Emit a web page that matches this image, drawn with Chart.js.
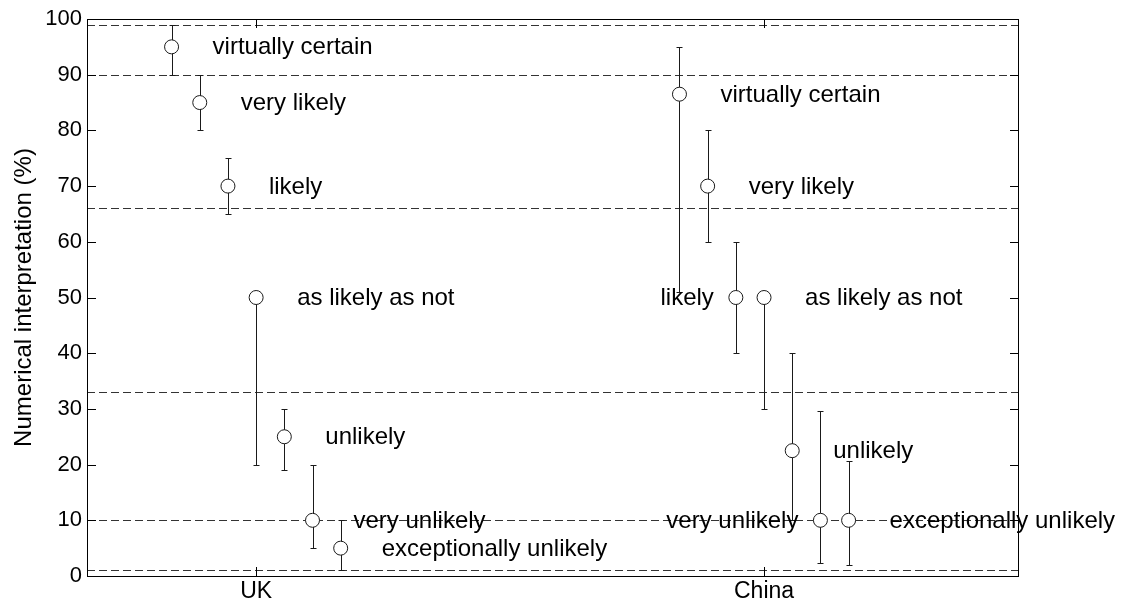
<!DOCTYPE html>
<html>
<head>
<meta charset="utf-8">
<script src="https://cdn.jsdelivr.net/npm/chart.js@4.4.1/dist/chart.umd.min.js"></script>
<style>
  html, body { margin: 0; padding: 0; background: #fff; }
  #wrap { width: 1128px; height: 610px; }
</style>
</head>
<body>
<div id="wrap"><canvas id="myChart"></canvas></div>
<script>
// groups on the x axis and the seven likelihood terms
const groups = ['UK', 'China'];
const terms = ['virtually certain', 'very likely', 'likely', 'as likely as not',
               'unlikely', 'very unlikely', 'exceptionally unlikely'];

// median numerical interpretation (%) and the range shown by the bars
const ukMid = [95, 85, 70, 50, 25, 10, 5];
const ukLow = [90, 80, 65, 20, 19, 5, 1];
const ukHigh = [99, 90, 75, 50, 30, 20, 10];

const chinaMid = [86.5, 70, 50, 50, 22.5, 10, 10];
const chinaLow = [51, 60, 40, 30, 10, 2.3, 2];
const chinaHigh = [95, 80, 60, 50, 40, 29.7, 20.7];

// IPCC band limits drawn as dashed lines
const bandLines = [99, 90, 66, 33, 10, 1];

const yTicks = [0, 10, 20, 30, 40, 50, 60, 70, 80, 90, 100];

const FONT = '"Liberation Sans", Arial, sans-serif';
const INK = '#1a1a1a';
const spread = 0.0555;              // horizontal step between terms inside a group
const leftLabels = { 1: [2, 5] };   // China: "likely" and "very unlikely" sit left of the marker

const mids = [ukMid, chinaMid];
const lows = [ukLow, chinaLow];
const highs = [ukHigh, chinaHigh];

const datasets = groups.map((g, gi) => ({
    label: g,
    data: mids[gi].map((v, i) => ({ x: gi + 1 + (i - 3) * spread, y: v })),
    pointRadius: 7,
    pointHoverRadius: 7,
    pointBackgroundColor: '#fff',
    pointBorderColor: INK,
    pointBorderWidth: 1,
    showLine: false
}));

const crisp = v => Math.round(v) + 0.5;

const bandsAndBars = {
    id: 'bandsAndBars',
    beforeDatasetsDraw(chart) {
        const { ctx, chartArea: a, scales: { x, y } } = chart;
        ctx.save();
        ctx.lineWidth = 1;
        ctx.strokeStyle = '#333';
        ctx.setLineDash([8, 4]);
        bandLines.forEach(v => {
            const py = crisp(y.getPixelForValue(v));
            ctx.beginPath();
            ctx.moveTo(a.left, py);
            ctx.lineTo(a.right, py);
            ctx.stroke();
        });
        ctx.setLineDash([]);
        ctx.strokeStyle = INK;
        datasets.forEach((ds, gi) => {
            ds.data.forEach((p, i) => {
                const px = crisp(x.getPixelForValue(p.x));
                const y1 = crisp(y.getPixelForValue(lows[gi][i]));
                const y2 = crisp(y.getPixelForValue(highs[gi][i]));
                ctx.beginPath();
                ctx.moveTo(px, y1);
                ctx.lineTo(px, y2);
                ctx.moveTo(px - 3, y1);
                ctx.lineTo(px + 3, y1);
                ctx.moveTo(px - 3, y2);
                ctx.lineTo(px + 3, y2);
                ctx.stroke();
            });
        });
        ctx.restore();
    },
    afterDatasetsDraw(chart) {
        const { ctx } = chart;
        ctx.save();
        ctx.font = '24px ' + FONT;
        ctx.fillStyle = '#000';
        ctx.textBaseline = 'middle';
        groups.forEach((g, gi) => {
            const meta = chart.getDatasetMeta(gi);
            meta.data.forEach((pt, i) => {
                const onLeft = (leftLabels[gi] || []).includes(i);
                ctx.textAlign = onLeft ? 'right' : 'left';
                ctx.fillText(terms[i], onLeft ? pt.x - 22 : pt.x + 41, pt.y + 1);
            });
        });
        ctx.restore();
    },
    afterDraw(chart) {
        const { ctx, chartArea: a, scales: { x, y } } = chart;
        ctx.save();
        ctx.strokeStyle = '#000';
        ctx.lineWidth = 1;
        ctx.strokeRect(crisp(a.left), crisp(a.top), Math.round(a.right - a.left) - 1, Math.round(a.bottom - a.top));
        ctx.beginPath();
        y.ticks.forEach(t => {
            const py = crisp(y.getPixelForValue(t.value));
            ctx.moveTo(a.left, py); ctx.lineTo(a.left + 9, py);
            ctx.moveTo(a.right, py); ctx.lineTo(a.right - 9, py);
        });
        x.ticks.forEach(t => {
            const px = crisp(x.getPixelForValue(t.value));
            ctx.moveTo(px, a.bottom); ctx.lineTo(px, a.bottom - 9);
            ctx.moveTo(px, a.top); ctx.lineTo(px, a.top + 9);
        });
        ctx.stroke();
        ctx.restore();
    }
};

const ctx = document.getElementById('myChart');
const myChart = new Chart(ctx, {
    type: 'scatter',
    data: { datasets },
    options: {
        responsive: true,
        maintainAspectRatio: false,
        devicePixelRatio: 1,
        animation: false,
        layout: { padding: { top: 19, right: 109, bottom: 0, left: 0 } },
        plugins: {
            legend: { display: false },
            tooltip: { enabled: false }
        },
        scales: {
            x: {
                type: 'linear',
                min: 0.667,
                max: 2.502,
                afterFit: s => { s.height = 34; },
                afterBuildTicks: s => { s.ticks = groups.map((g, i) => ({ value: i + 1 })); },
                grid: { display: false, drawTicks: false },
                border: { display: false },
                ticks: {
                    padding: 2,
                    color: '#000',
                    font: { family: FONT, size: 23 },
                    callback: v => groups[v - 1]
                }
            },
            y: {
                min: 0,
                max: 100,
                afterFit: s => { s.width = 87; },
                afterBuildTicks: s => { s.ticks = yTicks.map(v => ({ value: v })); },
                grid: { display: false, drawTicks: false },
                border: { display: false },
                title: {
                    display: true,
                    text: 'Numerical interpretation (%)',
                    color: '#000',
                    font: { family: FONT, size: 24 },
                    padding: { top: 10, bottom: 0 }
                },
                ticks: {
                    padding: 5,
                    color: '#000',
                    font: { family: FONT, size: 22 }
                }
            }
        }
    },
    plugins: [bandsAndBars]
});
</script>
</body>
</html>
